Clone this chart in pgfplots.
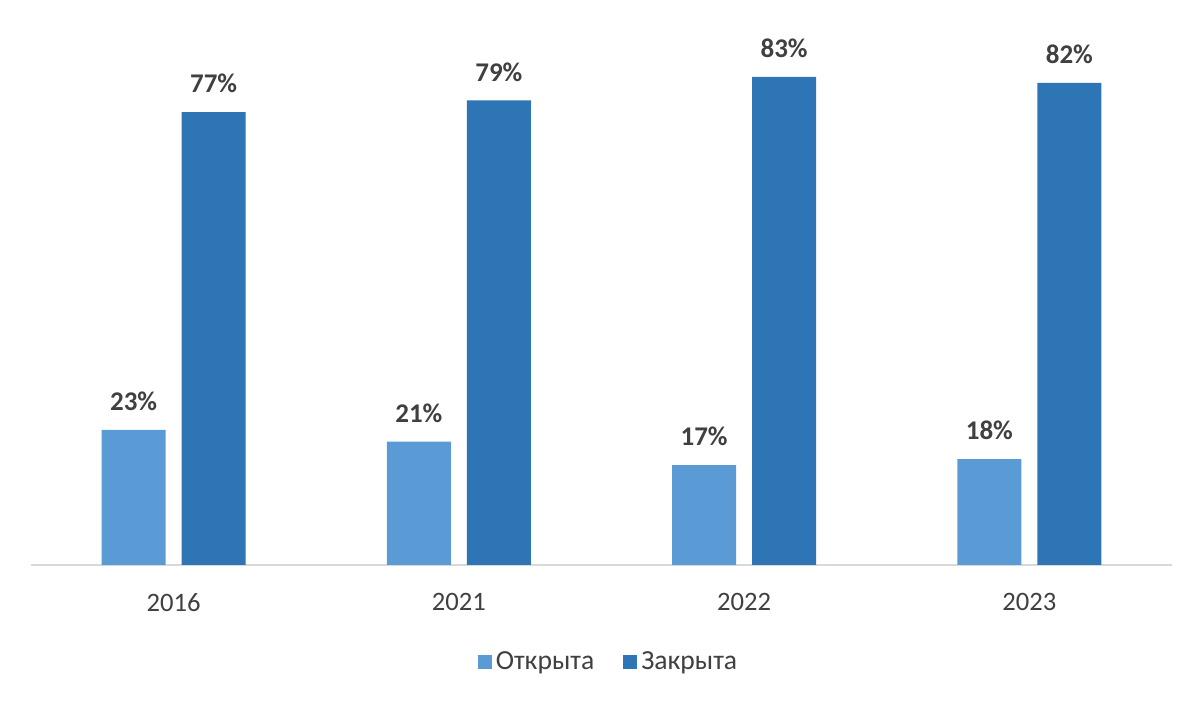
\documentclass[border=0pt]{standalone}
\usepackage{fontspec}
\setmainfont{Carlito}
\usepackage{pgfplots}
\pgfplotsset{compat=1.18}
\definecolor{lightb}{HTML}{5B9BD5}
\definecolor{darkb}{HTML}{2E75B6}
\definecolor{txt}{HTML}{404040}
\definecolor{axl}{HTML}{D9D9D9}
\begin{document}
\begin{tikzpicture}
\path[use as bounding box] (0,0) rectangle (600pt,353pt);
\begin{axis}[
  at={(15.5pt,70.5pt)}, anchor=south west,
  scale only axis, width=570.5pt, height=282.24pt,
  /pgf/number format/assume math mode=true,
  ybar=8pt, bar width=32pt,
  xmin=-0.5, xmax=3.5, ymin=0, ymax=96,
  xtick=data, xticklabels={2016,2021,2022,2023},
  hide y axis, axis x line=bottom,
  x axis line style={-, draw=axl, line width=1pt},
  major tick length=0pt,
  xticklabel style={font=\fontsize{13.3}{15}\selectfont, text=txt, yshift=-10.5pt},
  nodes near coords={\pgfmathprintnumber{\pgfplotspointmeta}\%},
  nodes near coords style={font=\bfseries\fontsize{13.5}{16}\selectfont, text=txt, yshift=6pt},
  clip=false,
  legend style={at={(0.507,-0.172)}, anchor=center, draw=none, font=\fontsize{13.8}{15}\selectfont, text=txt,
    /tikz/every even column/.append style={column sep=12.5pt}},
  legend columns=2,
  legend image code/.code={\fill[#1] (0pt,-3.5pt) rectangle (7pt,3.5pt);},
]
\addplot[fill=lightb, draw=none] coordinates {(0,23) (1,21) (2,17) (3,18)};
\addplot[fill=darkb, draw=none] coordinates {(0,77) (1,79) (2,83) (3,82)};
\legend{Открыта, Закрыта}
\end{axis}
\end{tikzpicture}
\end{document}
